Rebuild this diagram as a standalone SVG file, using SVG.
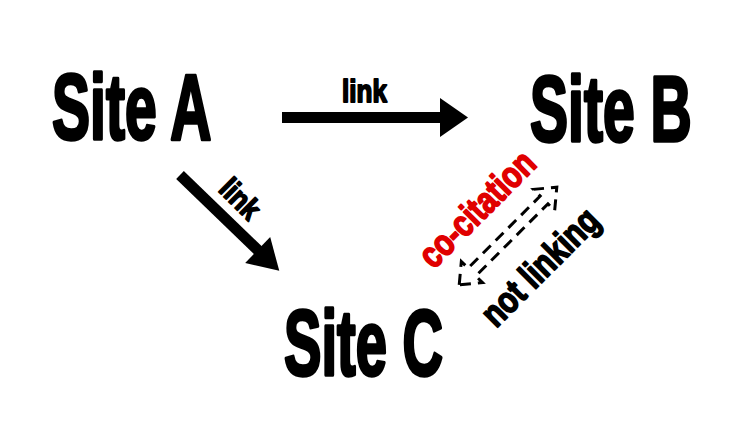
<svg xmlns="http://www.w3.org/2000/svg" width="738" height="448" viewBox="0 0 738 448">
<style>
.site{font-family:"Liberation Sans",sans-serif;font-weight:bold;font-size:92px;fill:#000;stroke:#000;stroke-width:3.5;stroke-linejoin:round}
.lbl{font-family:"Liberation Sans",sans-serif;font-weight:bold;fill:#000;stroke:#000;stroke-width:1.8;stroke-linejoin:round}
.red{fill:#e00000;stroke:#e00000}
</style>
<rect width="738" height="448" fill="#fff"/>
<g id="siteA"><text class="site" transform="translate(52,139) scale(0.62,1)" x="0" y="0">Site A</text></g>
<g id="siteB"><text class="site" transform="translate(530,141) scale(0.62,1)" x="0" y="0">Site B</text></g>
<g id="siteC"><text class="site" transform="translate(284,375) scale(0.61,1)" x="0" y="0">Site C</text></g>
<g id="connectors">
  <g id="linkAB">
    <rect x="282" y="112" width="160" height="11" fill="#000"/>
    <polygon points="440,98 468,117.5 440,137" fill="#000"/>
    <text class="lbl" transform="translate(364.5,102) scale(0.84,1)" x="0" y="0" font-size="31" text-anchor="middle">link</text>
  </g>
  <g id="linkAC">
    <g transform="translate(180,175) rotate(44)">
      <rect x="0" y="-5.5" width="112" height="11" fill="#000"/>
      <polygon points="108,-18 138,0 108,18" fill="#000"/>
    </g>
    <text class="lbl" transform="translate(240,199) rotate(45) scale(0.85,1)" x="0" y="10" font-size="30" text-anchor="middle">link</text>
  </g>
  <g id="cocitation">
    <polygon transform="translate(508,236) rotate(-45)" points="-69,0 -51,-15 -51,-5.5 51,-5.5 51,-15 69,0 51,15 51,5.5 -51,5.5 -51,15" fill="none" stroke="#000" stroke-width="3" stroke-dasharray="11,7"/>
    <text class="lbl red" transform="translate(478,210) rotate(-45) scale(0.79,1)" x="0" y="11" font-size="37" text-anchor="middle">co-citation</text>
    <text class="lbl" transform="translate(541,268) rotate(-45) scale(0.8,1)" x="0" y="11" font-size="37" text-anchor="middle">not linking</text>
  </g>
</g>
</svg>
